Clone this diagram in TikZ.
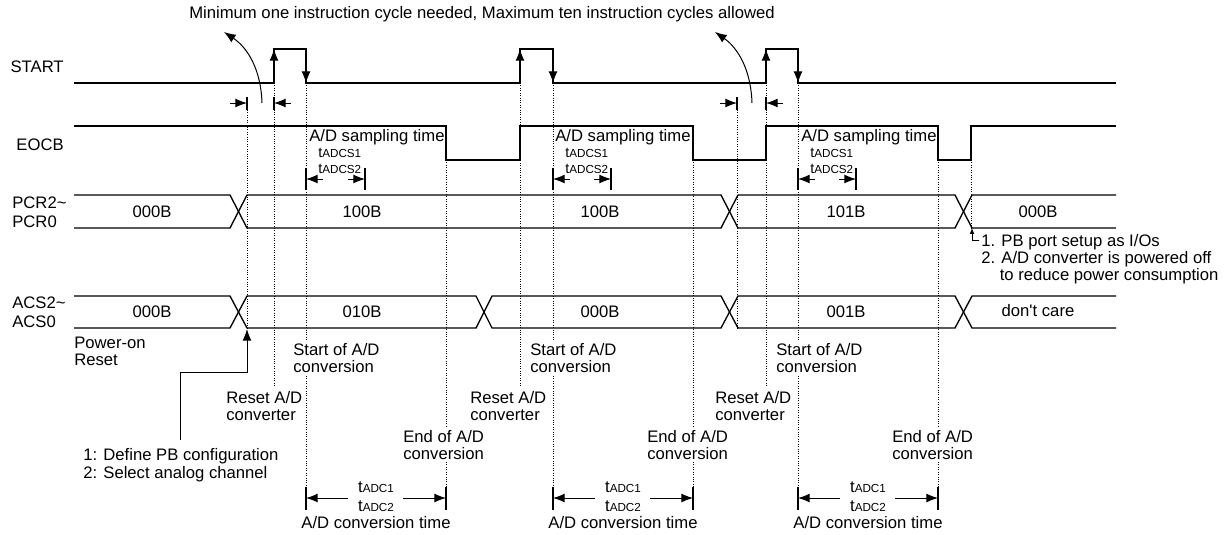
\documentclass[tikz,border=0pt]{standalone}
\usepackage{fontspec}
\setmainfont{Liberation Sans}
\usepackage{tikz}
\usetikzlibrary{arrows.meta, positioning}
\tikzstyle{arrow} = [line width=0.6pt,-{Latex[length=7pt,width=5.4pt]}]
\tikzstyle{tiny arrow} = [line width=0.5pt,-{Latex[length=3.5pt,width=2.8pt]}]
\tikzstyle{sig} = [line width=0.8pt]
\tikzstyle{guide} = [densely dotted, line width=0.45pt]
\tikzstyle{txt} = [inner sep=0pt, align=left, font=\fontsize{10}{10.2}\selectfont]
\tikzstyle{txt2} = [inner sep=0pt, align=left, font=\fontsize{8.6}{9.2}\selectfont]
\newcommand{\tval}[1]{t{\scriptsize #1}}

\begin{document}
\begin{tikzpicture}[x=0.6pt, y=-0.6pt]
        \useasboundingbox (0,0) rectangle (1231,534);

        % Title
        \node[txt] (title) at (482,14) {Minimum one instruction cycle needed, Maximum ten instruction cycles allowed};

        % Signal names
        \node[txt, anchor=east] (nStart) at (64,67) {START};
        \node[txt, anchor=east] (nEocb) at (64,145) {EOCB};
        \node[txt, anchor=west] (nPcr) at (12,212) {PCR2\textasciitilde\\[1.4pt]PCR0};
        \node[txt, anchor=west] (nAcs) at (12,312) {ACS2\textasciitilde\\[1.4pt]ACS0};

        % START and EOCB waveforms
        \draw[sig] (74,83) -- (274,83) -- (274,49) -- (306,49) -- (306,83) -- (520,83) -- (520,49) -- (553,49) -- (553,83)
              -- (766,83) -- (766,49) -- (798,49) -- (798,83) -- (1116,83);
        \draw[sig] (74,126) -- (446,126) -- (446,160) -- (520,160) -- (520,126) -- (693,126) -- (693,160) -- (766,160)
              -- (766,126) -- (938,126) -- (938,160) -- (971,160) -- (971,126) -- (1116,126);
        \draw[arrow] (274,66) -- (274,49);
        \draw[arrow] (306,66) -- (306,83);
        \draw[arrow] (520,66) -- (520,49);
        \draw[arrow] (553,66) -- (553,83);
        \draw[arrow] (766,66) -- (766,49);
        \draw[arrow] (798,66) -- (798,83);

        % PCR and ACS buses
        \draw[sig] (74,195) -- (230,195) -- (247,228) -- (721,228) -- (738,195) -- (955,195) -- (972,228) -- (1116,228);
        \draw[sig] (74,228) -- (230,228) -- (247,195) -- (721,195) -- (738,228) -- (955,228) -- (972,195) -- (1116,195);
        \draw[sig] (74,296) -- (230,296) -- (247,328) -- (476,328) -- (492,296) -- (721,296) -- (738,328) -- (955,328) -- (972,296) -- (1116,296);
        \draw[sig] (74,328) -- (230,328) -- (247,296) -- (476,296) -- (492,328) -- (721,328) -- (738,296) -- (955,296) -- (972,328) -- (1116,328);

        % Bus values
        \node[txt] (pcr1) at (152,212) {000B};
        \node[txt] (pcr2) at (362,212) {100B};
        \node[txt] (pcr3) at (600,212) {100B};
        \node[txt] (pcr4) at (846,212) {101B};
        \node[txt] (pcr5) at (1038,212) {000B};
        \node[txt] (acs1) at (152,312) {000B};
        \node[txt] (acs2) at (362,312) {010B};
        \node[txt] (acs3) at (600,312) {000B};
        \node[txt] (acs4) at (846,312) {001B};
        \node[txt] (acs5) at (1038,311) {don\textquotesingle t care};

        % Dotted guide lines
        \draw[guide] (247,110) -- (247,328);
        \draw[guide] (274,83) -- (274,386);
        \draw[guide] (306,83) -- (306,341);
        \draw[guide] (306,376) -- (306,488);
        \draw[guide] (446,160) -- (446,426);
        \draw[guide] (446,462) -- (446,488);
        \draw[guide] (520,83) -- (520,386);
        \draw[guide] (553,83) -- (553,341);
        \draw[guide] (553,376) -- (553,488);
        \draw[guide] (693,160) -- (693,426);
        \draw[guide] (693,462) -- (693,488);
        \draw[guide] (737,110) -- (737,328);
        \draw[guide] (766,83) -- (766,386);
        \draw[guide] (798,83) -- (798,341);
        \draw[guide] (798,376) -- (798,488);
        \draw[guide] (938,160) -- (938,426);
        \draw[guide] (938,462) -- (938,488);
        \draw[guide] (971,160) -- (971,228);

        % Instruction cycle window
        \draw[sig] (247,97) -- (247,110);
        \draw[sig] (274,97) -- (274,110);
        \draw[arrow] (230,103) -- (247,103);
        \draw[arrow] (291,103) -- (274,103);
        \draw[arrow] (262,103) .. controls (261,70) and (248,48) .. (224,32);
        \draw[sig] (737,97) -- (737,110);
        \draw[sig] (766,97) -- (766,110);
        \draw[arrow] (720,103) -- (737,103);
        \draw[arrow] (783,103) -- (766,103);
        \draw[arrow] (752,103) .. controls (751,70) and (738,48) .. (715,32);

        % Sampling time
        \node[txt, anchor=west] (samp1) at (309,137) {A/D sampling time};
        \node[txt, anchor=west] (samp2) at (555,137) {A/D sampling time};
        \node[txt, anchor=west] (samp3) at (801,137) {A/D sampling time};
        \node[txt2, anchor=west] (ts1) at (318,161) {\tval{ADCS1}\\\tval{ADCS2}};
        \node[txt2, anchor=west] (ts2) at (565,161) {\tval{ADCS1}\\\tval{ADCS2}};
        \node[txt2, anchor=west] (ts3) at (810,161) {\tval{ADCS1}\\\tval{ADCS2}};
        \draw[sig] (306,168) -- (306,190);
        \draw[sig] (365,168) -- (365,190);
        \draw[arrow] (323,179) -- (306,179);
        \draw[arrow] (348,179) -- (365,179);
        \draw[sig] (553,168) -- (553,190);
        \draw[sig] (611,168) -- (611,190);
        \draw[arrow] (570,179) -- (553,179);
        \draw[arrow] (594,179) -- (611,179);
        \draw[sig] (798,168) -- (798,190);
        \draw[sig] (856,168) -- (856,190);
        \draw[arrow] (815,179) -- (798,179);
        \draw[arrow] (839,179) -- (856,179);

        % Event labels
        \node[txt, anchor=north west] (pon) at (74,337) {Power-on\\Reset};
        \node[txt, anchor=north west] (start1) at (293,343) {Start of A/D\\conversion};
        \node[txt, anchor=north west] (start2) at (530,343) {Start of A/D\\conversion};
        \node[txt, anchor=north west] (start3) at (776,343) {Start of A/D\\conversion};
        \node[txt, anchor=north west] (reset1) at (226,391) {Reset A/D\\converter};
        \node[txt, anchor=north west] (reset2) at (470,391) {Reset A/D\\converter};
        \node[txt, anchor=north west] (reset3) at (715,391) {Reset A/D\\converter};
        \node[txt, anchor=north west] (end1) at (403,430) {End of A/D\\conversion};
        \node[txt, anchor=north west] (end2) at (647,430) {End of A/D\\conversion};
        \node[txt, anchor=north west] (end3) at (892,430) {End of A/D\\conversion};

        % Configuration note
        \node[txt, anchor=north west] (cfg) at (83,448) {1: Define PB configuration\\[0.8pt]2: Select analog channel};
        \coordinate (acsX) at (247,329);
        \coordinate (cfgBend) at (247,372);
        \draw[arrow] ([yshift=4.8pt]cfg.north) |- (cfgBend) -- (acsX);

        % Power down note
        \node[txt, anchor=north west] (pbNote) at (981,234) {1. PB port setup as I/Os\\2. A/D converter is powered off\\\hspace*{11.1pt}to reduce power consumption};
        \coordinate (pcrX) at (972,228);
        \draw[tiny arrow] ([xshift=-1pt]pbNote.north west |- 0,240) -| (pcrX);

        % Conversion time
        \draw[sig] (306,487) -- (306,510);
        \draw[sig] (446,487) -- (446,510);
        \draw[arrow] (348,498) -- (306,498);
        \draw[arrow] (403,498) -- (446,498);
        \draw[sig] (553,487) -- (553,510);
        \draw[sig] (693,487) -- (693,510);
        \draw[arrow] (595,498) -- (553,498);
        \draw[arrow] (650,498) -- (693,498);
        \draw[sig] (798,487) -- (798,510);
        \draw[sig] (938,487) -- (938,510);
        \draw[arrow] (840,498) -- (798,498);
        \draw[arrow] (895,498) -- (938,498);
        \node[txt] (tc1) at (376,497) {\tval{ADC1}\\[1.2pt]\tval{ADC2}};
        \node[txt] (conv1) at (376,523) {A/D conversion time};
        \node[txt] (tc2) at (623,497) {\tval{ADC1}\\[1.2pt]\tval{ADC2}};
        \node[txt] (conv2) at (623,523) {A/D conversion time};
        \node[txt] (tc3) at (868,497) {\tval{ADC1}\\[1.2pt]\tval{ADC2}};
        \node[txt] (conv3) at (868,523) {A/D conversion time};
\end{tikzpicture}
\end{document}
